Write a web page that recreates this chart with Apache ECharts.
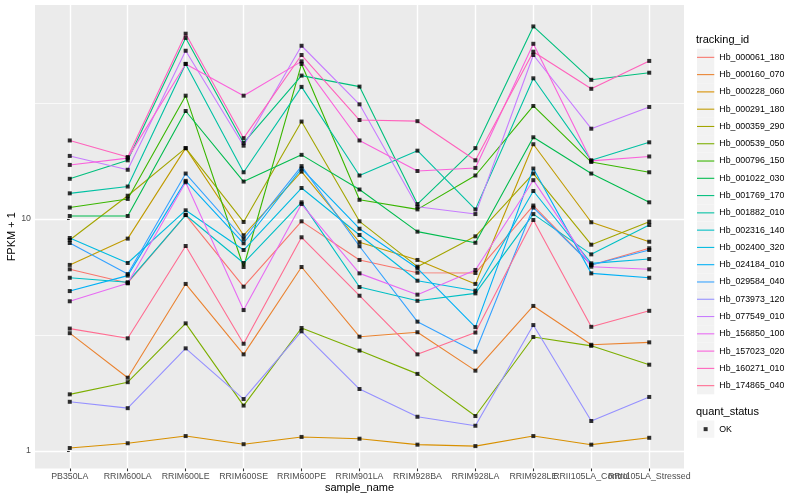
<!DOCTYPE html>
<html><head><meta charset="utf-8">
<script src="https://cdn.jsdelivr.net/npm/echarts@6/dist/echarts.min.js"></script>
<style>html,body{margin:0;padding:0;background:#fff}#chart{width:800px;height:500px}</style>
</head><body><div id="chart"></div>
<script>
const categories = ['PB350LA','RRIM600LA','RRIM600LE','RRIM600SE','RRIM600PE','RRIM901LA','RRIM928BA','RRIM928LA','RRIM928LE','RRII105LA_Control','RRII105LA_Stressed'];
const trackingIds = ['Hb_000061_180','Hb_000160_070','Hb_000228_060','Hb_000291_180','Hb_000359_290','Hb_000539_050','Hb_000796_150','Hb_001022_030','Hb_001769_170','Hb_001882_010','Hb_002316_140','Hb_002400_320','Hb_024184_010','Hb_029584_040','Hb_073973_120','Hb_077549_010','Hb_156850_100','Hb_157023_020','Hb_160271_010','Hb_174865_040'];
const colors = ['#F8766D','#EA8331','#D89000','#C09B00','#A3A500','#7CAE00','#39B600','#00BB4E','#00BF7D','#00C1A3','#00BFC4','#00BAE0','#00B0F6','#35A2FF','#9590FF','#C77CFF','#E76BF3','#FA62DB','#FF62BC','#FF6C91'];

const hb000061_180 = [6.07, 5.30, 10.40, 5.11, 9.77, 6.66, 5.87, 5.85, 11.43, 6.34, 7.48];
const hb000160_070 = [3.22, 2.07, 5.25, 2.61, 6.21, 3.11, 3.25, 2.22, 4.22, 2.87, 2.94];
const hb000228_060 = [1.03, 1.08, 1.16, 1.07, 1.15, 1.13, 1.065, 1.05, 1.16, 1.065, 1.14];
const hb000291_180 = [6.34, 8.23, 20.2, 8.51, 16.0, 7.94, 6.66, 5.25, 21.0, 9.68, 7.98];
const hb000359_290 = [8.12, 12.6, 20.2, 9.71, 26.3, 9.77, 6.23, 8.42, 15.7, 7.75, 9.74];
const hb000539_050 = [1.755, 1.98, 3.55, 1.57, 3.39, 2.71, 2.15, 1.415, 3.10, 2.84, 2.355];
const hb000796_150 = [11.2, 12.2, 34.0, 6.21, 46.6, 12.1, 11.0, 15.4, 30.7, 17.6, 15.9];
const hb001022_030 = [10.3, 10.3, 29.2, 14.5, 18.9, 13.4, 8.82, 7.90, 22.5, 15.7, 11.8];
const hb001769_170 = [14.9, 17.9, 60.3, 21.3, 41.5, 37.2, 11.6, 20.2, 67.6, 39.8, 42.7];
const hb001882_010 = [12.9, 13.8, 46.6, 15.9, 37.1, 15.4, 19.7, 11.0, 40.4, 17.9, 21.4];
const hb002316_140 = [5.58, 5.34, 10.4, 6.46, 11.8, 5.09, 4.44, 4.78, 10.5, 7.04, 9.42];
const hb002400_320 = [8.28, 6.46, 10.9, 7.35, 13.6, 8.53, 5.42, 4.91, 13.2, 6.44, 6.72];
const hb024184_010 = [4.89, 5.70, 14.6, 7.86, 16.5, 9.08, 6.13, 3.42, 16.5, 5.83, 5.58];
const hb029584_040 = [7.88, 5.79, 15.7, 8.20, 16.9, 7.63, 3.61, 2.68, 11.2, 6.34, 7.35];
const hb073973_120 = [1.63, 1.53, 2.77, 1.675, 3.28, 1.85, 1.405, 1.285, 3.49, 1.347, 1.71];
const hb077549_010 = [18.7, 16.3, 53.1, 20.7, 55.8, 31.2, 11.3, 10.5, 50.9, 24.5, 30.4];
const hb156850_100 = [4.42, 5.28, 14.4, 4.05, 11.6, 5.83, 4.72, 6.03, 14.7, 6.23, 6.07];
const hb157023_020 = [17.1, 18.3, 46.6, 34.0, 47.8, 21.8, 16.1, 16.6, 56.9, 17.8, 18.6];
const hb160271_010 = [21.8, 18.5, 62.9, 22.3, 50.9, 26.7, 26.4, 17.9, 52.6, 36.4, 48.0];
const hb174865_040 = [3.37, 3.06, 7.65, 2.90, 8.34, 4.67, 2.61, 3.24, 9.90, 3.43, 4.02];

const seriesValues = [hb000061_180, hb000160_070, hb000228_060, hb000291_180, hb000359_290, hb000539_050, hb000796_150, hb001022_030, hb001769_170, hb001882_010, hb002316_140, hb002400_320, hb024184_010, hb029584_040, hb073973_120, hb077549_010, hb156850_100, hb157023_020, hb160271_010, hb174865_040];

const yTickValues = [1, 10];
const yTickLabels = ['1', '10'];
const yMinorValues = [3.1623, 31.623];
const xTickValues = categories.map((c, i) => i);
const xLabelsEven = xTickValues.filter(i => i % 2 === 0);
const xLabelsOdd = xTickValues.filter(i => i % 2 === 1);

const FONT = 'Liberation Sans, Arial, sans-serif';
const K = 17.28;

const lineSeries = trackingIds.map((id, s) => ({
  name: id,
  type: 'line',
  color: colors[s],
  showSymbol: false,
  symbol: 'none',
  lineStyle: { width: 1.1, color: colors[s] },
  emphasis: { disabled: true },
  z: 2,
  data: seriesValues[s].map((v, i) => [i, v])
}));

const pointData = [];
seriesValues.forEach(arr => arr.forEach((v, i) => pointData.push([i, v])));

const xLabelStyle = { formatter: v => categories[Math.round(v)], fontSize: 8.8, color: '#4D4D4D', margin: 4, fontFamily: FONT,
  hideOverlap: false, showMinLabel: true, showMaxLabel: true };

const option = {
  animation: false,
  backgroundColor: '#ffffff',
  textStyle: { fontFamily: FONT },
  title: [
    { text: 'tracking_id', left: 696, top: 34, padding: 0, textStyle: { fontSize: 11, fontWeight: 'normal', color: '#000', fontFamily: FONT } },
    { text: 'quant_status', left: 696, top: 406, padding: 0, textStyle: { fontSize: 11, fontWeight: 'normal', color: '#000', fontFamily: FONT } }
  ],
  legend: [
    { data: trackingIds, orient: 'vertical', left: 697, top: 48.7, padding: 0, itemGap: 0, itemWidth: K, itemHeight: K,
      icon: 'rect', itemStyle: { color: '#F2F2F2', borderWidth: 0 }, formatter: () => '', textStyle: { color: 'rgba(0,0,0,0)' }, selectedMode: false, z: 3 },
    { data: trackingIds, orient: 'vertical', left: 697, top: 48.7, padding: 0, itemGap: 0, itemWidth: K, itemHeight: K,
      icon: 'path://M0,0M17.28,17.28M0,8.1H17.28V9.18H0Z', itemStyle: { borderWidth: 0 },
      textStyle: { fontSize: 8.8, color: '#000', fontFamily: FONT }, selectedMode: false, z: 4 },
    { data: ['OK'], orient: 'vertical', left: 697, top: 420.5, padding: 0, itemWidth: K, itemHeight: K,
      icon: 'rect', itemStyle: { color: '#F2F2F2', borderWidth: 0 }, formatter: () => '', textStyle: { color: 'rgba(0,0,0,0)' }, selectedMode: false, z: 3 },
    { data: ['OK'], orient: 'vertical', left: 697, top: 420.5, padding: 0, itemWidth: K, itemHeight: K,
      icon: 'path://M0,0M17.28,17.28M6.64,6.64H10.64V10.64H6.64Z', itemStyle: { borderWidth: 0 },
      textStyle: { fontSize: 8.8, color: '#000', fontFamily: FONT }, selectedMode: false, z: 4 }
  ],
  grid: { left: 35, top: 5, width: 649, height: 463.5, show: true, backgroundColor: '#EBEBEB', borderWidth: 0,
    containLabel: false, outerBoundsMode: 'none' },
  xAxis: [
    {
      type: 'value', min: -0.6, max: 10.6, position: 'bottom',
      name: 'sample_name', nameLocation: 'middle', nameGap: 14, nameMoveOverlap: false,
      nameTextStyle: { fontSize: 11, color: '#000', fontFamily: FONT, verticalAlign: 'top' },
      axisLine: { show: false },
      axisTick: { show: true, customValues: xTickValues, length: 2.75, lineStyle: { color: '#333333', width: 1.07 } },
      axisLabel: Object.assign({ customValues: xLabelsEven }, xLabelStyle),
      splitLine: { show: true, lineStyle: { color: '#FFFFFF', width: 1.4 } }
    },
    {
      type: 'value', min: -0.6, max: 10.6, position: 'bottom', offset: 0,
      axisLine: { show: false },
      axisTick: { show: false, customValues: xLabelsOdd },
      axisLabel: Object.assign({ customValues: xLabelsOdd }, xLabelStyle),
      splitLine: { show: false }
    }
  ],
  yAxis: [
    {
      type: 'log', logBase: 10, min: 0.8407, max: 83.62,
      name: 'FPKM + 1', nameLocation: 'middle', nameGap: 18, nameRotate: 90, nameMoveOverlap: false,
      nameTextStyle: { fontSize: 11, color: '#000', fontFamily: FONT },
      axisLine: { show: false },
      axisTick: { show: true, customValues: yTickValues, length: 2.75, lineStyle: { color: '#333333', width: 1.07 } },
      axisLabel: { customValues: yTickValues, formatter: v => yTickLabels[yTickValues.indexOf(Math.round(v))] || '', fontSize: 8.8, color: '#4D4D4D', margin: 4, fontFamily: FONT },
      splitLine: { show: true, lineStyle: { color: '#FFFFFF', width: 1.4 } }
    },
    {
      type: 'log', logBase: 10, min: 0.8407, max: 83.62, position: 'left',
      axisLine: { show: false },
      axisTick: { show: false, customValues: yMinorValues },
      axisLabel: { show: false, customValues: yMinorValues },
      splitLine: { show: true, lineStyle: { color: '#FFFFFF', width: 0.7 } }
    }
  ],
  series: lineSeries.concat([{
    name: 'OK', type: 'scatter', symbol: 'rect', symbolSize: 4,
    itemStyle: { color: '#000000' }, color: '#000000', z: 5,
    emphasis: { disabled: true },
    data: pointData
  }])
};

const chart = echarts.init(document.getElementById('chart'), null, { renderer: 'canvas' });
chart.setOption(option);
</script>
</body></html>
